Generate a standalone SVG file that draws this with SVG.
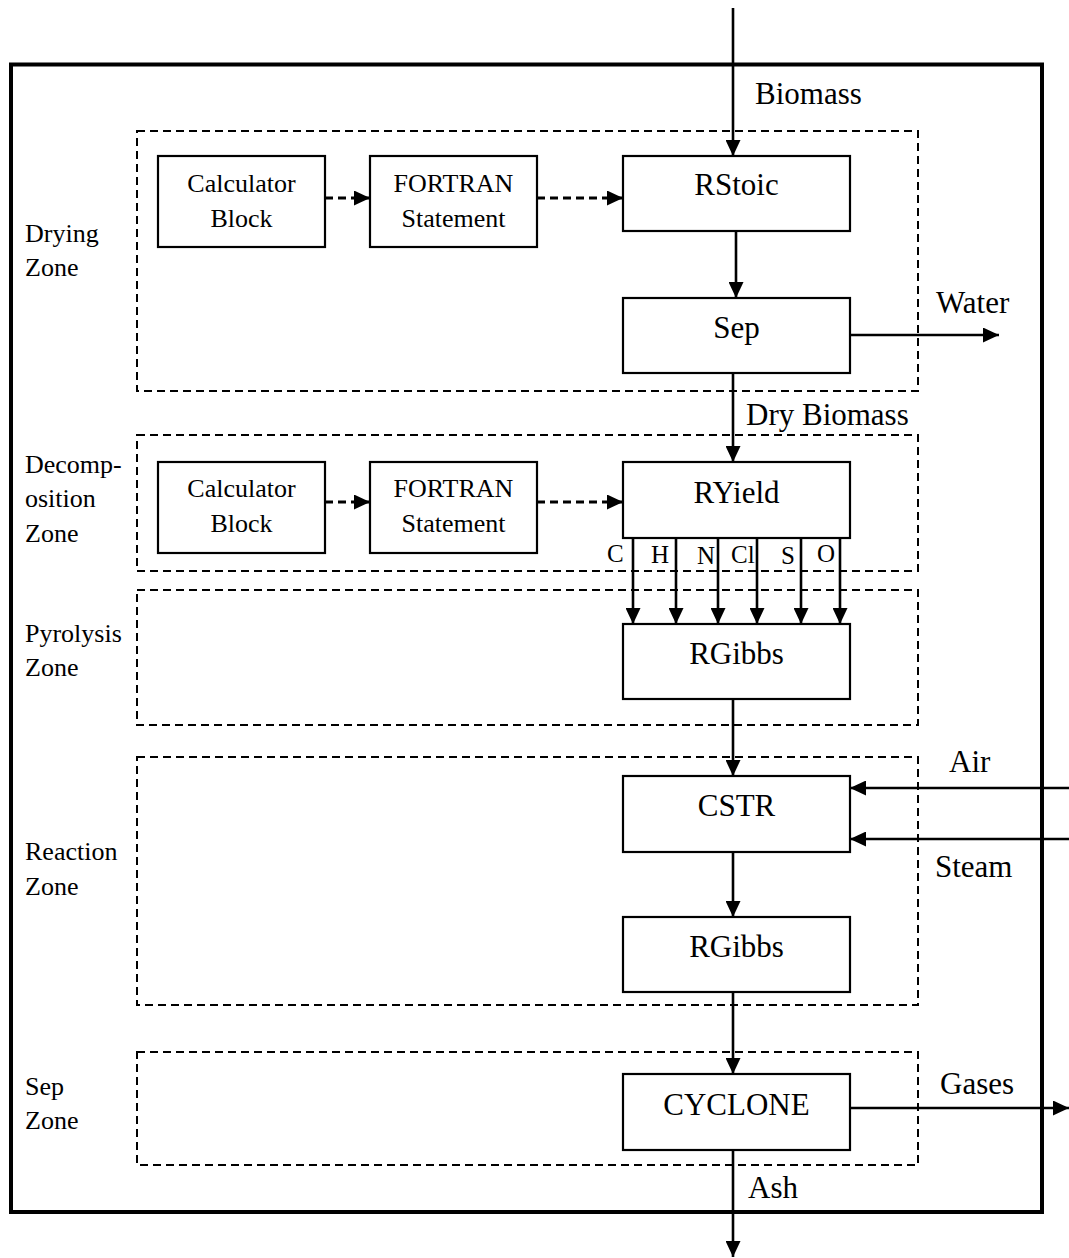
<svg xmlns="http://www.w3.org/2000/svg" width="1069" height="1258" viewBox="0 0 1069 1258">
<defs>
<style>
text{font-family:"Liberation Serif","Times New Roman",serif;fill:#000}
.big{font-size:31px;text-anchor:middle}
.small{font-size:26px;text-anchor:middle}
.lbl{font-size:26px}
.flow{font-size:31px}
.el{font-size:25px}
.node{fill:#fff;stroke:#000;stroke-width:2.2}
.zone{fill:none;stroke:#000;stroke-width:2;stroke-dasharray:8,5}
.arr{fill:none;stroke:#000;stroke-width:2.6;marker-end:url(#ah)}
.darr{fill:none;stroke:#000;stroke-width:3;stroke-dasharray:8,5;marker-end:url(#ah)}
</style>
<marker id="ah" markerUnits="userSpaceOnUse" markerWidth="16" markerHeight="15" refX="16" refY="7.5" orient="auto">
<path d="M0,0 L16,7.5 L0,15 Z" fill="#000" stroke="none"/>
</marker>
</defs>
<rect width="1069" height="1258" fill="#fff"/>
<g id="frame">
<rect x="11" y="64.5" width="1031" height="1147.5" fill="none" stroke="#000" stroke-width="4"/>
</g>
<g id="zones">
<g id="zone-drying"><rect class="zone" x="137" y="131" width="781" height="260"/><text class="lbl" x="25" y="242">Drying</text><text class="lbl" x="25" y="276">Zone</text></g>
<g id="zone-decomp"><rect class="zone" x="137" y="435" width="781" height="136"/><text class="lbl" x="25" y="473">Decomp-</text><text class="lbl" x="25" y="507">osition</text><text class="lbl" x="25" y="542">Zone</text></g>
<g id="zone-pyrolysis"><rect class="zone" x="137" y="590" width="781" height="135"/><text class="lbl" x="25" y="642">Pyrolysis</text><text class="lbl" x="25" y="676">Zone</text></g>
<g id="zone-reaction"><rect class="zone" x="137" y="757" width="781" height="248"/><text class="lbl" x="25" y="860">Reaction</text><text class="lbl" x="25" y="895">Zone</text></g>
<g id="zone-sep"><rect class="zone" x="137" y="1052" width="781" height="113"/><text class="lbl" x="25" y="1095">Sep</text><text class="lbl" x="25" y="1129">Zone</text></g>
</g>
<g id="connectors">
<path class="arr" d="M733,8 V156"/>
<path class="darr" d="M325,198 H370"/>
<path class="darr" d="M537,198 H623"/>
<path class="arr" d="M736,231 V298"/>
<path class="arr" d="M850,335 H999"/>
<path class="arr" d="M733,373 V462"/>
<path class="darr" d="M325,502 H370"/>
<path class="darr" d="M537,502 H623"/>
<path class="arr" d="M633,538 V624"/>
<path class="arr" d="M676,538 V624"/>
<path class="arr" d="M718,538 V624"/>
<path class="arr" d="M757,538 V624"/>
<path class="arr" d="M801,538 V624"/>
<path class="arr" d="M840,538 V624"/>
<path class="arr" d="M733,699 V776"/>
<path class="arr" d="M1069,788 H850"/>
<path class="arr" d="M1069,839 H850"/>
<path class="arr" d="M733,852 V917"/>
<path class="arr" d="M733,992 V1074"/>
<path class="arr" d="M850,1108 H1069"/>
<path class="arr" d="M733,1150 V1257"/>
</g>
<g id="labels">
<text class="flow" x="755" y="104">Biomass</text>
<text class="flow" x="936" y="313">Water</text>
<text class="flow" x="746" y="425">Dry Biomass</text>
<text class="el" x="607" y="562">C</text>
<text class="el" x="651" y="563">H</text>
<text class="el" x="697" y="564">N</text>
<text class="el" x="731" y="563">Cl</text>
<text class="el" x="781" y="564">S</text>
<text class="el" x="817" y="562">O</text>
<text class="flow" x="949" y="772">Air</text>
<text class="flow" x="935" y="877">Steam</text>
<text class="flow" x="940" y="1094">Gases</text>
<text class="flow" x="748" y="1198">Ash</text>
</g>
<g id="calc1"><rect class="node" x="158" y="156" width="167" height="91"/><text class="small" x="241.5" y="192">Calculator</text><text class="small" x="241.5" y="227">Block</text></g>
<g id="fortran1"><rect class="node" x="370" y="156" width="167" height="91"/><text class="small" x="453.5" y="192">FORTRAN</text><text class="small" x="453.5" y="227">Statement</text></g>
<g id="rstoic"><rect class="node" x="623" y="156" width="227" height="75"/><text class="big" x="736.5" y="195">RStoic</text></g>
<g id="sep"><rect class="node" x="623" y="298" width="227" height="75"/><text class="big" x="736.5" y="338">Sep</text></g>
<g id="calc2"><rect class="node" x="158" y="462" width="167" height="91"/><text class="small" x="241.5" y="497">Calculator</text><text class="small" x="241.5" y="532">Block</text></g>
<g id="fortran2"><rect class="node" x="370" y="462" width="167" height="91"/><text class="small" x="453.5" y="497">FORTRAN</text><text class="small" x="453.5" y="532">Statement</text></g>
<g id="ryield"><rect class="node" x="623" y="462" width="227" height="76"/><text class="big" x="736.5" y="503">RYield</text></g>
<g id="rgibbs1"><rect class="node" x="623" y="624" width="227" height="75"/><text class="big" x="736.5" y="664">RGibbs</text></g>
<g id="cstr"><rect class="node" x="623" y="776" width="227" height="76"/><text class="big" x="736.5" y="816">CSTR</text></g>
<g id="rgibbs2"><rect class="node" x="623" y="917" width="227" height="75"/><text class="big" x="736.5" y="957">RGibbs</text></g>
<g id="cyclone"><rect class="node" x="623" y="1074" width="227" height="76"/><text class="big" x="736.5" y="1115">CYCLONE</text></g>
</svg>
